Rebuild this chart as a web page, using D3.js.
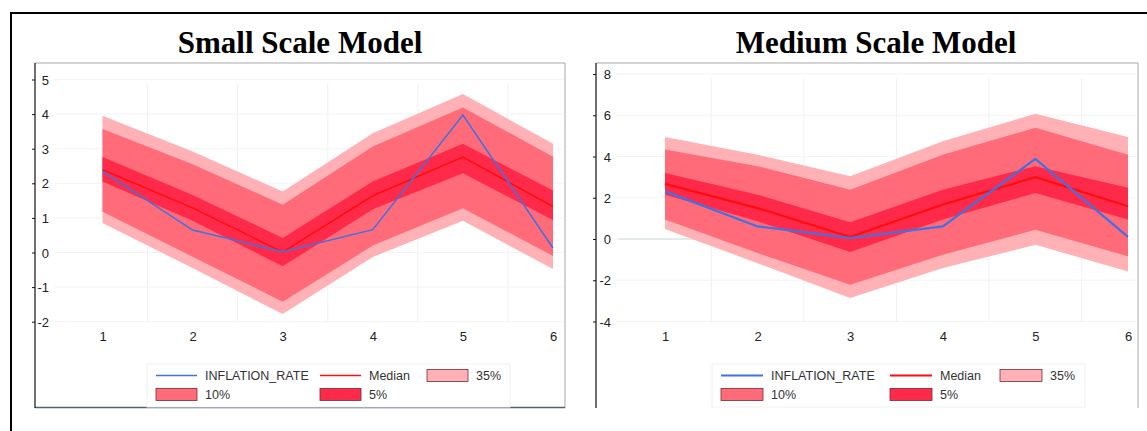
<!DOCTYPE html>
<html>
<head>
<meta charset="utf-8">
<script src="https://cdn.jsdelivr.net/npm/d3@7"></script>
<style>
  body { margin: 0; background: #fff; }
  svg { display: block; }
  .tick text { font-family: "Liberation Sans", Arial, sans-serif; font-size: 13px; fill: #222; }
  .legend text { font-family: "Liberation Sans", Arial, sans-serif; font-size: 12.5px; fill: #333; }
</style>
</head>
<body>
<svg width="1147" height="431"></svg>
<script>
// forecast horizon
const steps = [1, 2, 3, 4, 5, 6];

// Small scale model
const smallInflation = [2.35, 0.65, 0.02, 0.66, 3.97, 0.13];
const smallMedian = [2.39, 1.29, 0.01, 1.64, 2.76, 1.33];
const small5Lo = [2.05, 0.92, -0.40, 1.25, 2.29, 0.94];
const small5Hi = [2.76, 1.66, 0.42, 2.05, 3.14, 1.79];
const small10Lo = [1.18, -0.12, -1.42, 0.20, 1.28, -0.10];
const small10Hi = [3.57, 2.55, 1.38, 3.06, 4.19, 2.77];
const small35Lo = [0.85, -0.45, -1.78, -0.13, 0.92, -0.48];
const small35Hi = [3.95, 2.92, 1.76, 3.45, 4.58, 3.14];
const smallTicks = [-2, -1, 0, 1, 2, 3, 4, 5];

// Medium scale model
const mediumInflation = [2.31, 0.61, 0.05, 0.61, 3.88, 0.10];
const mediumMedian = [2.67, 1.50, 0.10, 1.67, 3.00, 1.59];
const medium5Lo = [2.15, 0.86, -0.63, 0.94, 2.23, 0.94];
const medium5Hi = [3.20, 2.15, 0.81, 2.39, 3.53, 2.48];
const medium10Lo = [0.94, -0.68, -2.22, -0.76, 0.45, -0.84];
const medium10Hi = [4.34, 3.53, 2.39, 4.09, 5.39, 4.09];
const medium35Lo = [0.49, -1.17, -2.86, -1.41, -0.28, -1.57];
const medium35Hi = [4.94, 4.09, 3.04, 4.74, 6.07, 4.94];
const mediumTicks = [-4, -2, 0, 2, 4, 6, 8];

const colors = { c35: "#ffb1b6", c10: "#ff6b78", c5: "#ff2a4a", median: "#ff0d0d", infl: "#3f72e4" };

const svg = d3.select("svg");

// outer frame
svg.append("path")
  .attr("d", "M11,431 L11,13 L1147,13")
  .attr("fill", "none").attr("stroke", "#000").attr("stroke-width", 2);

function drawPanel(cfg) {
  const g = svg.append("g");
  const x = d3.scaleLinear().domain([1, 6]).range(cfg.xRange);
  const y = d3.scaleLinear().domain(cfg.yDomain).range(cfg.yRange);

  // title
  g.append("text")
    .attr("x", cfg.titleX).attr("y", 53)
    .attr("text-anchor", "middle")
    .style("font-family", "'Liberation Serif', 'Times New Roman', serif")
    .style("font-weight", "bold").style("font-size", "31px")
    .text(cfg.title);

  // panel border
  g.append("path")
    .attr("d", `M${cfg.box[0]},63 L${cfg.box[1]},63 L${cfg.box[1]},408`)
    .attr("fill", "none").attr("stroke", "#a8a8a8").attr("stroke-width", 1);
  if (cfg.bottomLine) {
    g.append("line")
      .attr("x1", cfg.box[0]).attr("x2", cfg.box[1]).attr("y1", 407.5).attr("y2", 407.5)
      .attr("stroke", "#566070").attr("stroke-width", 1.5);
  }

  // faint gridlines
  const mids = d3.range(1.5, 6.5, 1);
  g.selectAll(".vgrid").data(mids).enter().append("line")
    .attr("x1", d => x(d)).attr("x2", d => x(d))
    .attr("y1", y(cfg.yDomain[1]) + 4).attr("y2", y(cfg.yDomain[0]))
    .attr("stroke", "#f1f1f1");
  g.selectAll(".hgrid").data(cfg.ticks).enter().append("line")
    .attr("x1", cfg.box[0] + 20).attr("x2", cfg.box[1] - 2)
    .attr("y1", d => y(d)).attr("y2", d => y(d))
    .attr("stroke", "#f3f3f3");
  if (cfg.zeroLine) {
    g.append("line")
      .attr("x1", cfg.box[0] + 22).attr("x2", x(6))
      .attr("y1", y(0)).attr("y2", y(0))
      .attr("stroke", "#cfdcdc").attr("stroke-width", 1);
  }

  const band = (lo, hi) => d3.area()
    .x((d, i) => x(steps[i]))
    .y0((d, i) => y(lo[i]))
    .y1((d, i) => y(hi[i]))(steps);
  const line = vals => d3.line()
    .x((d, i) => x(steps[i]))
    .y((d, i) => y(vals[i]))(steps);

  g.append("path").attr("d", band(cfg.lo35, cfg.hi35)).attr("fill", colors.c35);
  g.append("path").attr("d", band(cfg.lo10, cfg.hi10)).attr("fill", colors.c10);
  g.append("path").attr("d", band(cfg.lo5, cfg.hi5)).attr("fill", colors.c5);
  g.append("path").attr("d", line(cfg.median))
    .attr("fill", "none").attr("stroke", colors.median).attr("stroke-width", cfg.lw);
  g.append("path").attr("d", line(cfg.infl))
    .attr("fill", "none").attr("stroke", colors.infl).attr("stroke-width", cfg.lw);

  // y axis: black line at panel edge, labels inside
  g.append("line")
    .attr("x1", cfg.box[0]).attr("x2", cfg.box[0]).attr("y1", 63).attr("y2", 408)
    .attr("stroke", "#111").attr("stroke-width", 1.2);
  g.append("g")
    .attr("transform", `translate(${cfg.box[0]},0)`)
    .call(d3.axisLeft(y).tickValues(cfg.ticks).tickSize(3).tickFormat(""))
    .call(a => a.select(".domain").remove())
    .call(a => a.selectAll("line").attr("stroke", "#111"));
  g.append("g")
    .attr("transform", `translate(${cfg.labelX},0)`)
    .call(d3.axisLeft(y).tickValues(cfg.ticks).tickSize(0).tickPadding(0).tickFormat(d => String(d)))
    .call(a => a.select(".domain").remove())
    .call(a => a.selectAll("text").attr("dy", "0.36em"));

  // x labels
  g.append("g")
    .attr("transform", `translate(0,${cfg.xLabelY})`)
    .call(d3.axisBottom(x).tickValues(steps).tickSize(0).tickPadding(0).tickFormat(d => String(d)))
    .call(a => a.select(".domain").remove())
    .call(a => a.selectAll("text").attr("dy", "0.36em"));

  // legend
  const L = cfg.legend;
  const lg = g.append("g").attr("class", "legend");
  lg.append("rect")
    .attr("x", L.box[0]).attr("y", 364).attr("width", L.box[1] - L.box[0]).attr("height", 43)
    .attr("fill", "#fff").attr("stroke", "#f0f0f0");
  const items = [
    { label: "INFLATION_RATE", type: "line", color: colors.infl, col: 0, row: 0 },
    { label: "Median", type: "line", color: colors.median, col: 1, row: 0 },
    { label: "35%", type: "rect", color: colors.c35, col: 2, row: 0 },
    { label: "10%", type: "rect", color: colors.c10, col: 0, row: 1 },
    { label: "5%", type: "rect", color: colors.c5, col: 1, row: 1 }
  ];
  const rowY = [375.5, 394.5];
  items.forEach(it => {
    const x0 = L.cols[it.col];
    const cy = rowY[it.row];
    if (it.type === "line") {
      lg.append("line").attr("x1", x0).attr("x2", x0 + L.sw).attr("y1", cy).attr("y2", cy)
        .attr("stroke", it.color).attr("stroke-width", cfg.lw);
    } else {
      lg.append("rect").attr("x", x0).attr("y", cy - 6).attr("width", L.sw).attr("height", 12)
        .attr("fill", it.color).attr("stroke", "#7a2a30").attr("stroke-width", 0.8);
    }
    lg.append("text").attr("x", x0 + L.sw + 8).attr("y", cy).attr("dy", "0.36em").text(it.label);
  });
}

drawPanel({
  title: "Small Scale Model", titleX: 300,
  box: [35, 565], bottomLine: true, zeroLine: false,
  xRange: [102.5, 553], yDomain: [-2, 5], yRange: [321.7, 79.5],
  ticks: smallTicks, labelX: 49, xLabelY: 336, lw: 1.5,
  infl: smallInflation, median: smallMedian,
  lo5: small5Lo, hi5: small5Hi, lo10: small10Lo, hi10: small10Hi, lo35: small35Lo, hi35: small35Hi,
  legend: { box: [147, 510], cols: [156, 320, 427], sw: 41 }
});

drawPanel({
  title: "Medium Scale Model", titleX: 876,
  box: [596, 1138], bottomLine: false, zeroLine: true,
  xRange: [665, 1128], yDomain: [-4, 8], yRange: [321.5, 74],
  ticks: mediumTicks, labelX: 611, xLabelY: 336, lw: 2.2,
  infl: mediumInflation, median: mediumMedian,
  lo5: medium5Lo, hi5: medium5Hi, lo10: medium10Lo, hi10: medium10Hi, lo35: medium35Lo, hi35: medium35Hi,
  legend: { box: [712, 1085], cols: [721, 890, 1000], sw: 42 }
});
</script>
</body>
</html>
